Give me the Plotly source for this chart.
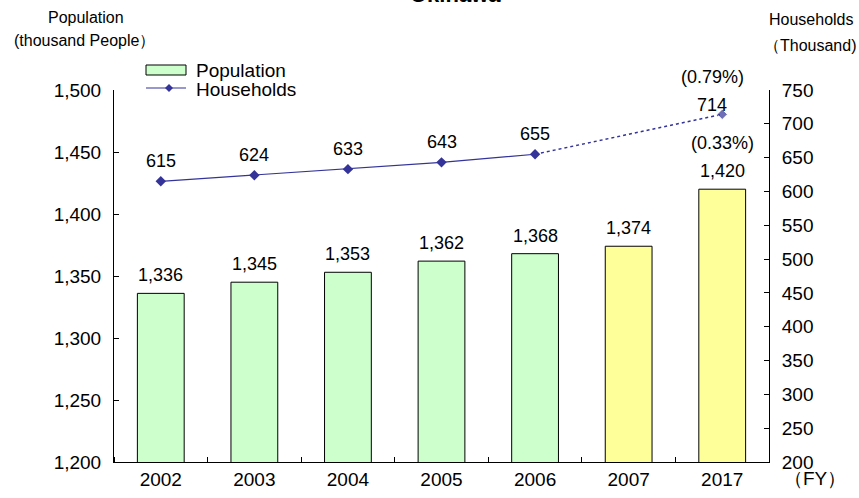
import plotly.graph_objects as go

years = ["2002", "2003", "2004", "2005", "2006", "2007", "2017"]
population = [1336, 1345, 1353, 1362, 1368, 1374, 1420]
pop_colors = ["#CCFFCC"] * 5 + ["#FFFF99"] * 2
households_actual = [615, 624, 633, 643, 655]
households_idx = [0, 1, 2, 3, 4]
households_proj_idx = [4, 6]
households_proj = [655, 714]
pop_growth_label = "(0.33%)"
hh_growth_label = "(0.79%)"

FONT = "Liberation Sans, Arial, sans-serif"
NAVY = "#333399"
idx = list(range(len(years)))

fig = go.Figure()
fig.add_trace(go.Bar(
    x=idx, y=population, name="Population", showlegend=False,
    marker=dict(color=pop_colors, line=dict(color="black", width=1)),
    width=0.5,
))
fig.add_trace(go.Scatter(
    x=households_idx, y=households_actual, name="Households", yaxis="y2", showlegend=False,
    mode="lines+markers",
    line=dict(color=NAVY, width=1.2),
    marker=dict(symbol="diamond", size=8, color=NAVY),
))
fig.add_trace(go.Scatter(
    x=households_proj_idx, y=households_proj, yaxis="y2", showlegend=False,
    mode="lines+markers",
    line=dict(color=NAVY, width=1.5, dash="dot"),
    marker=dict(symbol="diamond", size=[0, 8], color=NAVY),
))

def txt(size=18):
    return dict(size=size, color="black", family=FONT)

ann = []
for x, v in zip(idx, population):
    ann.append(dict(x=x, y=v, xref="x", yref="y", text=f"{v:,}", showarrow=False,
                    yanchor="middle", yshift=18, font=txt()))
ann.append(dict(x=idx[-1], y=population[-1], xref="x", yref="y", text=pop_growth_label,
                showarrow=False, yanchor="middle", yshift=46, font=txt()))
for x, v in zip(households_idx, households_actual):
    ann.append(dict(x=x, y=v, xref="x", yref="y2", text=f"{v:,}", showarrow=False,
                    yanchor="middle", yshift=20, font=txt()))
ann.append(dict(x=households_proj_idx[-1], y=households_proj[-1], xref="x", yref="y2",
                text=f"{households_proj[-1]:,}", showarrow=False, yanchor="middle", yshift=9,
                xshift=-10, font=txt()))
ann.append(dict(x=households_proj_idx[-1], y=households_proj[-1], xref="x", yref="y2",
                text=hh_growth_label, showarrow=False, yanchor="middle", yshift=37,
                xshift=-10, font=txt()))

L, R, T, B = 114, 769, 90, 462
def fx(xp):
    return (xp - L) / (R - L)
def fy(yp):
    return (B - yp) / (B - T)
def px(xp, yp, text, size=16, bold=False, xanchor="center"):
    return dict(x=fx(xp), y=fy(yp), xref="paper", yref="paper",
                text=f"<b>{text}</b>" if bold else text, showarrow=False, xanchor=xanchor,
                yanchor="middle", font=txt(size))

ann.append(px(86, 18, "Population"))
ann.append(px(84, 41, "(thousand People\uff09"))
ann.append(px(811, 20, "Households"))
ann.append(px(810, 45, "\uff08Thousand)"))
ann.append(px(815, 478, "\uff08FY\uff09", size=19))
ann.append(px(455, -6, "Okinawa", size=22, bold=True))
# legend texts
ann.append(px(194, 70, "Population", size=19, xanchor="left"))
ann.append(px(194, 89, "Households", size=19, xanchor="left"))

shapes = [
    dict(type="rect", xref="paper", yref="paper", x0=fx(146), x1=fx(186), y0=fy(75), y1=fy(65),
         fillcolor="#CCFFCC", line=dict(color="black", width=1)),
    dict(type="line", xref="paper", yref="paper", x0=fx(146), x1=fx(186), y0=fy(88), y1=fy(88),
         line=dict(color=NAVY, width=1.2)),
    dict(type="path", xref="paper", yref="paper",
         path=f"M {fx(169)} {fy(84)} L {fx(173)} {fy(88)} L {fx(169)} {fy(92)} L {fx(165)} {fy(88)} Z",
         fillcolor=NAVY, line=dict(color=NAVY, width=0)),
]

fig.update_layout(
    width=859, height=498,
    margin=dict(l=L, r=859 - R, t=T, b=498 - B, autoexpand=False),
    paper_bgcolor="white", plot_bgcolor="white",
    font=dict(family=FONT, color="black", size=18),
    showlegend=False,
    xaxis=dict(range=[-0.5, 6.5], tickvals=idx, ticktext=years, showline=True,
               linecolor="black", linewidth=1, ticks="", tickfont=txt(19), showgrid=False,
               zeroline=False, automargin=False,
               minor=dict(tick0=0.5, dtick=1, ticks="inside", ticklen=5, tickcolor="black",
                          showgrid=False)),
    yaxis=dict(range=[1200, 1500], dtick=50, tickformat=",", showline=True,
               linecolor="black", linewidth=1, ticks="inside", ticklen=5, tickcolor="black",
               showgrid=False, zeroline=False, tickfont=txt(19), ticklabelstandoff=8,
               automargin=False),
    yaxis2=dict(range=[200, 750], dtick=50, overlaying="y", side="right", showline=True,
                linecolor="black", linewidth=1, ticks="inside", ticklen=5, tickcolor="black",
                showgrid=False, zeroline=False, tickfont=txt(19), ticklabelstandoff=8,
                automargin=False),
    annotations=ann,
    shapes=shapes,
)

fig.write_html("out.html")
